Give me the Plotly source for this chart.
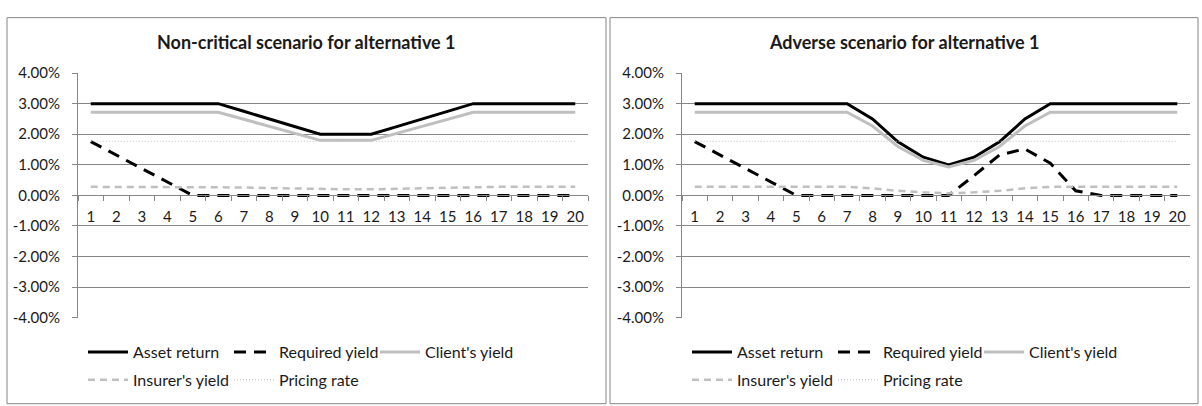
import plotly.graph_objects as go

W, H = 1202, 406

periods = [str(i) for i in range(1, 21)]

# Non-critical scenario (values in %)
nc_asset = [3.00, 3.00, 3.00, 3.00, 3.00, 3.00, 2.75, 2.50, 2.25, 2.00,
            2.00, 2.00, 2.25, 2.50, 2.75, 3.00, 3.00, 3.00, 3.00, 3.00]
nc_required = [1.76, 1.32, 0.88, 0.44, 0.00, 0.00, 0.00, 0.00, 0.00, 0.00,
               0.00, 0.00, 0.00, 0.00, 0.00, 0.00, 0.00, 0.00, 0.00, 0.00]
nc_client = [2.72, 2.72, 2.72, 2.72, 2.72, 2.72, 2.49, 2.26, 2.03, 1.80,
             1.80, 1.80, 2.03, 2.26, 2.49, 2.72, 2.72, 2.72, 2.72, 2.72]
nc_insurer = [0.28, 0.28, 0.28, 0.28, 0.28, 0.28, 0.26, 0.24, 0.22, 0.20,
              0.20, 0.20, 0.22, 0.24, 0.26, 0.28, 0.28, 0.28, 0.28, 0.28]
nc_pricing = [1.77] * 20

# Adverse scenario (values in %)
ad_asset = [3.00, 3.00, 3.00, 3.00, 3.00, 3.00, 3.00, 2.50, 1.75, 1.25,
            1.00, 1.25, 1.75, 2.50, 3.00, 3.00, 3.00, 3.00, 3.00, 3.00]
ad_required = [1.76, 1.32, 0.88, 0.44, 0.00, 0.00, 0.00, 0.00, 0.00, 0.00,
               0.00, 0.65, 1.32, 1.52, 1.05, 0.15, 0.00, 0.00, 0.00, 0.00]
ad_client = [2.72, 2.72, 2.72, 2.72, 2.72, 2.72, 2.72, 2.27, 1.60, 1.15,
             0.93, 1.15, 1.60, 2.27, 2.72, 2.72, 2.72, 2.72, 2.72, 2.72]
ad_insurer = [0.28, 0.28, 0.28, 0.28, 0.28, 0.28, 0.28, 0.23, 0.15, 0.10,
              0.07, 0.10, 0.15, 0.23, 0.28, 0.28, 0.28, 0.28, 0.28, 0.28]
ad_pricing = [1.77] * 20

y_ticks = [4, 3, 2, 1, 0, -1, -2, -3, -4]

GRID = "#868686"
LIGHT = "#bfbfbf"
FONT = "Lato"
TXT = "#1a1a1a"


def px_x(p):
    return p / W


def px_y(p):
    return 1 - p / H


series_style = [
    ("Asset return", dict(color="black", width=3), "row1"),
    ("Required yield", dict(color="black", width=3, dash="12px,8px"), "row1"),
    ("Client's yield", dict(color=LIGHT, width=3), "row1"),
    ("Insurer's yield", dict(color=LIGHT, width=2.5, dash="7px,5px"), "row2"),
    ("Pricing rate", dict(color=LIGHT, width=1, dash="1px,2px"), "row2"),
]

panels = [
    dict(title="Non-critical scenario for alternative 1",
         data=[nc_asset, nc_required, nc_client, nc_insurer, nc_pricing],
         frame=(7, 606), plot=(78, 588), xa="x", ya="y",
         legends=("legend", "legend2")),
    dict(title="Adverse scenario for alternative 1",
         data=[ad_asset, ad_required, ad_client, ad_insurer, ad_pricing],
         frame=(610, 1198), plot=(682, 1190), xa="x2", ya="y2",
         legends=("legend3", "legend4")),
]

fig = go.Figure()

plot_top, plot_bot = 66, 322
ydom = [px_y(plot_bot), px_y(plot_top)]
zero_pos = (ydom[0] + ydom[1]) / 2

shapes, annotations = [], []
layout = dict(
    width=W, height=H, autosize=False,
    margin=dict(l=0, r=0, t=0, b=0),
    paper_bgcolor="white", plot_bgcolor="white",
    font=dict(family=FONT, size=15, color=TXT),
)

for i, p in enumerate(panels):
    for (name, line, row), vals in zip(series_style, p["data"]):
        leg = p["legends"][0] if row == "row1" else p["legends"][1]
        fig.add_trace(go.Scatter(
            x=periods, y=vals, name=name, mode="lines", line=line,
            xaxis=p["xa"], yaxis=p["ya"], legend=leg, hoverinfo="skip",
        ))

    suffix = "" if i == 0 else "2"
    xdom = [px_x(p["plot"][0]), px_x(p["plot"][1])]
    layout["xaxis" + suffix] = dict(
        domain=xdom, type="category", anchor="free", position=zero_pos,
        range=[-0.5, len(periods) - 0.5], tickangle=0,
        showline=True, linecolor=GRID, linewidth=1,
        ticks="outside", ticklen=5, tickcolor=GRID, tickson="boundaries",
        showgrid=False, zeroline=False, fixedrange=True,
        tickfont=dict(family=FONT, size=15, color=TXT), ticklabelstandoff=8,
    )
    layout["yaxis" + suffix] = dict(
        domain=ydom, anchor="x" + suffix, range=[-4, 4],
        tickvals=y_ticks, ticktext=[f"{v:.2f}%" for v in y_ticks],
        showgrid=True, gridcolor=GRID, gridwidth=1,
        showline=True, linecolor=GRID, linewidth=1,
        ticks="outside", ticklen=5, tickcolor=GRID,
        zeroline=False, fixedrange=True,
        tickfont=dict(family=FONT, size=15, color=TXT), ticklabelstandoff=9,
    )

    # chart frame
    fx0, fx1 = p["frame"]
    shapes.append(dict(type="rect", xref="paper", yref="paper",
                       x0=px_x(fx0), x1=px_x(fx1), y0=px_y(412), y1=px_y(8),
                       line=dict(color=GRID, width=1), fillcolor="rgba(0,0,0,0)",
                       layer="below"))
    annotations.append(dict(text=p["title"], xref="paper", yref="paper",
                            x=px_x((fx0 + fx1) / 2), y=px_y(33),
                            xanchor="center", yanchor="middle", showarrow=False,
                            font=dict(family=FONT, size=18, color=TXT, weight="bold")))

    # legends: two rows under each chart
    lx = p["plot"][0] + 5
    for leg, ypx in zip(p["legends"], (358, 387)):
        layout[leg] = dict(
            x=px_x(lx), y=px_y(ypx), xanchor="left", yanchor="middle",
            orientation="h", entrywidth=91, entrywidthmode="pixels",
            itemwidth=40, bgcolor="rgba(0,0,0,0)", borderwidth=0,
            font=dict(family=FONT, size=16, color=TXT), tracegroupgap=0,
            itemclick=False, itemdoubleclick=False,
        )

layout["shapes"] = shapes
layout["annotations"] = annotations
fig.update_layout(**layout)

fig.write_html("out.html")
